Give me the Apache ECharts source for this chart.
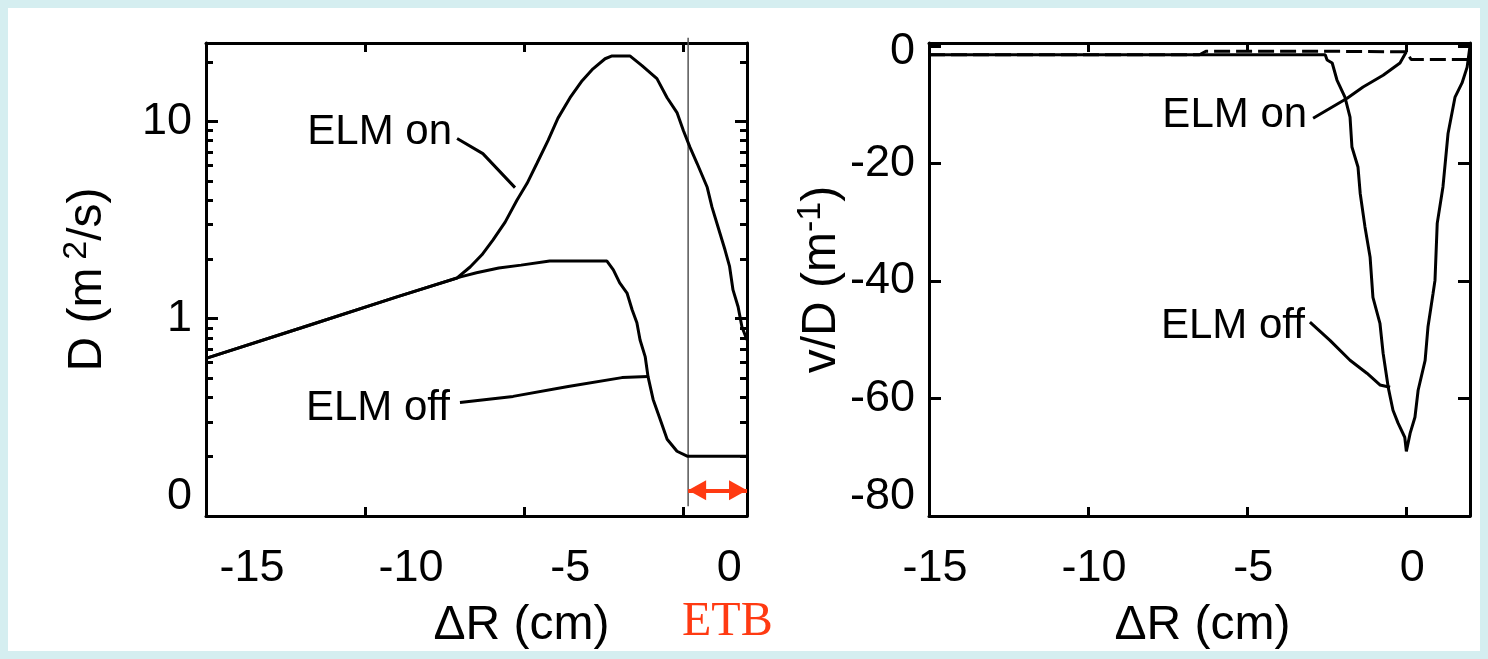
<!DOCTYPE html>
<html>
<head>
<meta charset="utf-8">
<script src="https://cdn.jsdelivr.net/npm/echarts@6/dist/echarts.min.js"></script>
<style>
  html, body { margin: 0; padding: 0; background: #d5eef0; }
  #chart { width: 1488px; height: 659px; }
</style>
</head>
<body>
<div id="chart"></div>
<script>
// ΔR axis (cm), shared by both panels
const xRange = [-15, 2];
const xTickStep = 5;

// Left panel: diffusion coefficient D (m^2/s), log scale
const dRange = [0.1, 25];
const dTickText = { '0.1': '0', '1': '1', '10': '10' };

// Right panel: convection velocity over diffusion v/D (1/m)
const vdRange = [-80, 0.5];
const vdTickStep = 20;

// D profiles, [ΔR, D]
const elmOffD = [
  [-15, 0.63], [-12, 0.90], [-9, 1.29], [-7.0, 1.63], [-6.5, 1.71], [-5.8, 1.81],
  [-5.1, 1.87], [-4.2, 1.96], [-2.4, 1.96], [-2.2, 1.77], [-2.0, 1.52], [-1.77, 1.35],
  [-1.61, 1.11], [-1.46, 0.955], [-1.36, 0.78], [-1.2, 0.643], [-1.11, 0.509],
  [-0.95, 0.39], [-0.73, 0.309], [-0.51, 0.245], [-0.2, 0.213], [0.12, 0.201], [2, 0.201]
];
const elmOnD = [
  [-15, 0.63], [-12, 0.90], [-9, 1.29], [-7.11, 1.61], [-6.70, 1.83], [-6.33, 2.11],
  [-5.98, 2.51], [-5.60, 3.09], [-5.23, 3.99], [-4.91, 4.86], [-4.60, 6.14], [-4.25, 8.02],
  [-3.94, 10.4], [-3.56, 13.2], [-3.18, 16.1], [-2.84, 18.5], [-2.46, 20.8], [-2.24, 21.5],
  [-1.68, 21.5], [-1.30, 19.2], [-0.83, 16.5], [-0.51, 13.2], [-0.20, 11.1], [0.0, 9.0],
  [0.21, 7.39], [0.43, 6.14], [0.75, 4.64], [0.90, 3.68], [1.09, 2.92], [1.31, 2.23],
  [1.45, 1.85], [1.56, 1.40], [1.72, 1.15], [1.84, 0.91], [2.0, 0.78]
];

// v/D profiles, [ΔR, v/D]
const elmOffVD = [
  [-15, -1.5], [-2.55, -1.5], [-2.49, -2.4], [-2.33, -2.9], [-2.18, -5.8], [-1.93, -8.7],
  [-1.77, -12.1], [-1.71, -17.2], [-1.52, -20.6], [-1.45, -25.1], [-1.30, -30.8],
  [-1.14, -35.9], [-1.05, -42.8], [-0.83, -47.2], [-0.73, -52.3], [-0.57, -58.1],
  [-0.42, -62.0], [-0.26, -64.2], [-0.05, -66.6], [0.0, -69.0], [0.12, -65.9],
  [0.27, -63.2], [0.37, -58.6], [0.59, -53.5], [0.68, -47.8], [0.84, -42.1], [0.90, -39.9],
  [0.97, -30.2], [1.15, -24.0], [1.31, -14.9], [1.53, -8.7], [1.75, -6.3], [1.91, -3.6], [2.0, 0]
];
const elmOnVD = [
  [-15, -1.5], [-6.5, -1.5], [-6.3, -0.9], [-2.6, -0.9], [0.0, -1.0], [0.15, -2.3], [2.0, -2.3]
];

// Edge transport barrier: inner boundary line and extent arrow
const etbInner = 0.15;
const etbOuter = 2;
const etbLineD = [0.112, 26.6];
const etbArrowD = 0.135;

// Curve labels and their leader lines, [ΔR, value]
const leaderOnD = [[-7.11, 8.2], [-6.30, 6.87], [-5.29, 4.62]];
const leaderOffD = [[-7.02, 0.376], [-5.35, 0.404], [-3.62, 0.453], [-1.93, 0.503], [-1.11, 0.509]];
const leaderOnVD = [[-2.93, -12.3], [-1.86, -8.9], [-1.36, -7.0], [-0.73, -5.0], [-0.2, -2.9], [0.0, -1.0]];
const leaderOffVD = [[-3.03, -47.0], [-2.40, -50.1], [-1.77, -53.5], [-1.24, -55.7], [-0.83, -57.7], [-0.51, -58.1]];

const FONT = "'Liberation Sans', Arial, Helvetica, sans-serif";
const INK = '#000';
const RED = '#ff3a12';

const chart = echarts.init(document.getElementById('chart'), null, { renderer: 'canvas' });

const lineStyle = { color: INK, width: 3 };

function xAxis(gridIndex, position, labels, labelShift, name, nameShift) {
  return {
    gridIndex, type: 'value', position,
    min: xRange[0], max: xRange[1], interval: xTickStep,
    axisLine: { show: true, onZero: false, lineStyle },
    axisTick: { show: true, inside: true, length: 9, lineStyle },
    axisLabel: {
      show: labels, margin: 30, showMaxLabel: false, color: INK,
      fontFamily: FONT, fontSize: 45, padding: [0, 0, 0, labelShift]
    },
    splitLine: { show: false },
    name: labels ? name : '',
    nameLocation: 'middle', nameGap: 86,
    nameTextStyle: { color: INK, fontFamily: FONT, fontSize: 48, padding: [0, 0, 0, nameShift] }
  };
}

const tickRich = {
  n: { fontFamily: FONT, fontSize: 45, color: INK },
  lo: { fontFamily: FONT, fontSize: 45, color: INK, padding: [0, 0, 38, 0] },
  hi: { fontFamily: FONT, fontSize: 45, color: INK, padding: [12, 0, 0, 0] }
};

function dAxis(position, labels) {
  return {
    gridIndex: 0, type: 'log', logBase: 10, position,
    min: dRange[0], max: dRange[1],
    axisLine: { show: true, onZero: false, lineStyle },
    axisTick: { show: true, inside: true, length: 12, lineStyle },
    minorTick: { show: true, splitNumber: 9, length: 7, lineStyle },
    axisLabel: {
      show: labels, margin: 14, showMaxLabel: false,
      formatter: v => {
        const key = String(+v.toPrecision(6));
        const txt = dTickText[key] !== undefined ? dTickText[key] : key;
        return (Math.abs(v - dRange[0]) < 1e-9 ? '{lo|' : '{n|') + txt + '}';
      },
      rich: tickRich
    },
    splitLine: { show: false }, minorSplitLine: { show: false },
    name: labels ? '{a|D (m}{s|2}{a|/s)}' : '',
    nameLocation: 'middle', nameRotate: 90, nameGap: 90,
    nameTextStyle: {
      rich: {
        a: { fontFamily: FONT, fontSize: 48, color: INK },
        s: { fontFamily: FONT, fontSize: 34, color: INK, padding: [0, 0, 22, 8] }
      }
    }
  };
}

function vdAxis(position, labels) {
  return {
    gridIndex: 1, type: 'value', position,
    min: vdRange[0], max: vdRange[1], interval: vdTickStep,
    axisLine: { show: true, onZero: false, lineStyle },
    axisTick: { show: true, inside: true, length: 12, lineStyle },
    axisLabel: {
      show: labels, margin: 14, showMaxLabel: false,
      formatter: v => (v === 0 ? '{hi|0}' : v === vdRange[0] ? '{lo|' + v + '}' : '{n|' + v + '}'),
      rich: tickRich
    },
    splitLine: { show: false },
    name: labels ? '{a|v/D (m}{s|-1}{a|)}' : '',
    nameLocation: 'middle', nameRotate: 90, nameGap: 66,
    nameTextStyle: {
      rich: {
        a: { fontFamily: FONT, fontSize: 48, color: INK },
        s: { fontFamily: FONT, fontSize: 34, color: INK, padding: [0, 0, 22, 0] }
      }
    }
  };
}

function curve(data, xi, yi, dashed) {
  return {
    type: 'line', xAxisIndex: xi, yAxisIndex: yi, data,
    showSymbol: false, symbol: 'none', animation: false, silent: true,
    lineStyle: { color: INK, width: 3, type: dashed ? [16, 6] : 'solid' },
    z: 3
  };
}

function leader(data, xi, yi, text, dist, dy) {
  const pts = data.map((p, i) => i === 0 ? {
    value: p,
    label: {
      show: true, position: 'left', distance: dist, offset: [0, dy],
      formatter: text, color: INK, fontFamily: FONT, fontSize: 42
    }
  } : { value: p });
  return {
    type: 'line', xAxisIndex: xi, yAxisIndex: yi, data: pts,
    symbol: 'circle', symbolSize: 0, showSymbol: true, animation: false, silent: true,
    lineStyle: { color: INK, width: 3 }, z: 4
  };
}

const option = {
  backgroundColor: '#d5eef0',
  animation: false,
  graphic: [
    { type: 'rect', z: -10, shape: { x: 8, y: 8, width: 1472, height: 643 }, style: { fill: '#ffffff' }, silent: true },
    {
      type: 'text', left: 682, top: 598, z: 10, silent: true,
      style: { text: 'ETB', fill: RED, font: "48px 'Liberation Serif', 'Times New Roman', serif" }
    }
  ],
  grid: [
    { left: 206, top: 43, width: 541, height: 473 },
    { left: 929, top: 43, width: 541, height: 473 }
  ],
  xAxis: [
    xAxis(0, 'bottom', true, 92, 'ΔR (cm)', 90),
    xAxis(0, 'top', false, 0, '', 0),
    xAxis(1, 'bottom', true, 12, 'ΔR (cm)', 6),
    xAxis(1, 'top', false, 0, '', 0)
  ],
  yAxis: [
    dAxis('left', true),
    dAxis('right', false),
    vdAxis('left', true),
    vdAxis('right', false)
  ],
  series: [
    curve(elmOffD, 0, 0, false),
    curve(elmOnD, 0, 0, false),
    {
      type: 'line', xAxisIndex: 0, yAxisIndex: 0, clip: false,
      data: [[etbInner, etbLineD[0]], [etbInner, etbLineD[1]]],
      showSymbol: false, symbol: 'none', animation: false, silent: true,
      lineStyle: { color: '#555', width: 1.5 }, z: 2,
      markLine: {
        silent: true, animation: false,
        symbol: ['triangle', 'triangle'], symbolSize: [20, 18], symbolOffset: [[0, 9], [0, 9]],
        label: { show: false },
        lineStyle: { color: RED, width: 4, type: 'solid' },
        data: [[{ coord: [etbInner, etbArrowD] }, { coord: [etbOuter, etbArrowD] }]]
      }
    },
    leader(leaderOnD, 0, 0, 'ELM on', 5, -6),
    leader(leaderOffD, 0, 0, 'ELM off', 10, 6),
    curve(elmOffVD, 2, 2, false),
    curve(elmOnVD, 2, 2, true),
    leader(leaderOnVD, 2, 2, 'ELM on', 6, -3),
    leader(leaderOffVD, 2, 2, 'ELM off', 5, 4)
  ]
};

chart.setOption(option);
</script>
</body>
</html>
